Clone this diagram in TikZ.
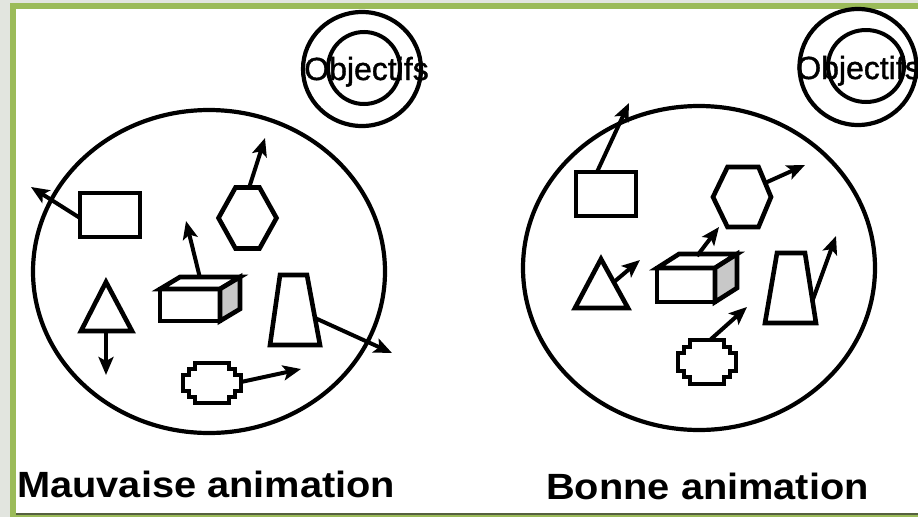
\documentclass[tikz,border=0pt]{standalone}
\usepackage{fontspec}
\setmainfont{Liberation Sans}
\newfontfamily\objfont[FakeBold=1.2]{Liberation Sans}
\usetikzlibrary{arrows.meta,shapes.geometric}
\definecolor{framegreen}{HTML}{9BBB59}
\definecolor{bggrey}{HTML}{E2E5DF}
\definecolor{darkedge}{HTML}{55603F}
\definecolor{shade}{HTML}{C8C8C8}
\tikzset{
  shp/.style={draw=black, line width=4.6pt, line join=miter, fill=white},
  bigring/.style={draw=black, line width=4.2pt},
  ring/.style={draw=black, line width=4pt},
  arr/.style={draw=black, line width=4pt, -{Stealth[length=18pt,width=15pt,inset=4pt]}},
  objtxt/.style={font=\objfont\fontsize{32}{36}\selectfont, inner sep=0pt, anchor=base},
  lbl/.style={font=\bfseries\fontsize{36.5}{42}\selectfont, inner sep=0pt, anchor=base west, xscale=1.09, transform shape}
}
\begin{document}
\begin{tikzpicture}[x=1pt,y=-1pt]
\useasboundingbox (0,0) rectangle (918,517);
% background and frame
\fill[bggrey] (0,0) rectangle (918,517);
\fill[framegreen] (10,3) rectangle (918,517);
\fill[white] (16,9) rectangle (918,513);
\fill[darkedge] (16,513) rectangle (918,515);

% ===== Left panel =====
\node[draw=black, line width=4.2pt, ellipse, minimum width=352pt, minimum height=323pt, inner sep=0pt] (bigL) at (209,271.5) {};
\node[bigring, ellipse, minimum width=118pt, minimum height=114pt, inner sep=0pt] (objLo) at (362,69) {};
\node[ring, circle, minimum size=72pt, inner sep=0pt] (objLi) at (364,68) {};
\node[objtxt] (objLt) at (366.5,80) {Objectifs};

% rectangle
\draw[shp] (80,193) rectangle (140,237);
\coordinate (rLs) at (80,218); \coordinate (rLe) at (31,187);
\draw[arr] (rLs) -- (rLe);
% hexagon
\draw[shp] (218.5,218) -- (235.5,187.5) -- (259.5,187.5) -- (276.5,218) -- (259.5,248.5) -- (235.5,248.5) -- cycle;
\coordinate (hLs) at (249,188); \coordinate (hLe) at (265,138);
\draw[arr] (hLs) -- (hLe);
% triangle
\draw[shp] (106,282) -- (132,331) -- (81,331) -- cycle;
\coordinate (tLs) at (106,331); \coordinate (tLe) at (106,375);
\draw[arr] (tLs) -- (tLe);
% box
\draw[shp] (160,289) rectangle (220,321);
\draw[shp] (160,289) -- (180,277) -- (240,277) -- (220,289) -- cycle;
\draw[shp, fill=shade] (220,289) -- (240,277) -- (240,309) -- (220,321) -- cycle;
\coordinate (bLs) at (200,278); \coordinate (bLe) at (186,221);
\draw[arr] (bLs) -- (bLe);
% trapezoid
\draw[shp] (280,275) -- (307,275) -- (320,345) -- (270,345) -- cycle;
\coordinate (zLs) at (315,318); \coordinate (zLe) at (392,353);
\draw[arr] (zLs) -- (zLe);
% cross
\draw[shp, shift={(212,383)}] (-17,-20) -- (17,-20) -- (17,-14) -- (23,-14) -- (23,-8) -- (29,-8) -- (29,8) -- (23,8) -- (23,14) -- (17,14) -- (17,20) -- (-17,20) -- (-17,14) -- (-23,14) -- (-23,8) -- (-29,8) -- (-29,-8) -- (-23,-8) -- (-23,-14) -- (-17,-14) -- cycle;
\coordinate (cLs) at (241,382); \coordinate (cLe) at (301,369);
\draw[arr] (cLs) -- (cLe);

\node[lbl] (labL) at (17,497) {Mauvaise animation};

% ===== Right panel =====
\node[draw=black, line width=4.2pt, ellipse, minimum width=352pt, minimum height=324pt, inner sep=0pt] (bigR) at (699,268) {};
\node[bigring, ellipse, minimum width=117pt, minimum height=116pt, inner sep=0pt] (objRo) at (858,67) {};
\node[ring, ellipse, minimum width=76pt, minimum height=72pt, inner sep=0pt] (objRi) at (866,66) {};
\node[objtxt] (objRt) at (858.5,79) {Objectifs};

% rectangle
\draw[shp] (576,172) rectangle (636,216);
\coordinate (rRs) at (597,172); \coordinate (rRe) at (629,103);
\draw[arr] (rRs) -- (rRe);
% hexagon
\draw[shp] (713,197) -- (727.5,167) -- (758.5,167) -- (771,197) -- (758.5,227) -- (727.5,227) -- cycle;
\coordinate (hRs) at (765,183); \coordinate (hRe) at (805,165);
\draw[arr] (hRs) -- (hRe);
% triangle
\draw[shp] (601,259) -- (628,308) -- (575,308) -- cycle;
\coordinate (tRs) at (614,282); \coordinate (tRe) at (640,260);
\draw[arr] (tRs) -- (tRe);
% box
\draw[shp] (657,268) rectangle (715,302);
\draw[shp] (657,268) -- (679,254) -- (737,254) -- (715,268) -- cycle;
\draw[shp, fill=shade] (715,268) -- (737,254) -- (737,288) -- (715,302) -- cycle;
\coordinate (bRs) at (697,256); \coordinate (bRe) at (719,227);
\draw[arr] (bRs) -- (bRe);
% trapezoid
\draw[shp] (777,253) -- (805,253) -- (816,323) -- (765,323) -- cycle;
\coordinate (zRs) at (812,302); \coordinate (zRe) at (836,236);
\draw[arr] (zRs) -- (zRe);
% cross
\draw[shp, shift={(707,362)}] (-17,-22) -- (17,-22) -- (17,-15) -- (23,-15) -- (23,-9) -- (29,-9) -- (29,9) -- (23,9) -- (23,15) -- (17,15) -- (17,22) -- (-17,22) -- (-17,15) -- (-23,15) -- (-23,9) -- (-29,9) -- (-29,-9) -- (-23,-9) -- (-23,-15) -- (-17,-15) -- cycle;
\coordinate (cRs) at (710,340); \coordinate (cRe) at (747,307);
\draw[arr] (cRs) -- (cRe);

\node[lbl] (labR) at (546,499) {Bonne animation};
\end{tikzpicture}
\end{document}
